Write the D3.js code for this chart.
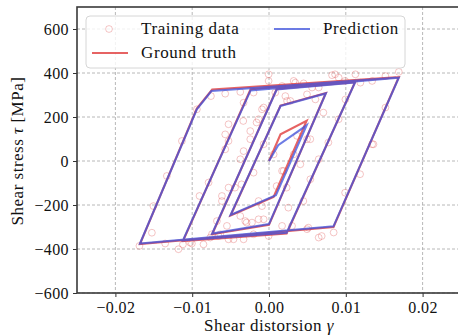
<!DOCTYPE html>
<html>
<head>
<meta charset="utf-8">
<script src="https://cdn.jsdelivr.net/npm/d3@7"></script>
<style>
  body { margin: 0; background: #fff; }
  text { font-family: "Liberation Serif", "DejaVu Serif", serif; }
</style>
</head>
<body>
<svg id="chart" width="458" height="335"></svg>
<script>
// ---- data ----
var xTicks = [-0.02, -0.01, 0, 0.01, 0.02];
var yTicks = [-600, -400, -200, 0, 200, 400, 600];

// ground truth path [gamma, tau]
var truthPath = [
  [0, 0], [0.0015, 121], [0.0049, 183], [0.0006, -163], [-0.0050, -248],
  [0.0015, 252], [0.0074, 309], [0.0000, -290], [-0.0074, -333],
  [0.0010, 327], [0.0112, 358], [0.0023, -329], [-0.0112, -364],
  [-0.0024, 326], [0.0169, 381], [0.0084, -300], [-0.0168, -378],
  [-0.0094, 238], [-0.0074, 325], [0.0165, 381]
];
// prediction path [gamma, tau]
var predPath = [
  [0, 0], [0.0012, 72], [0.0049, 162], [0.0009, -156], [-0.0050, -245],
  [0.0015, 250], [0.0074, 307], [0.0000, -287], [-0.0074, -330],
  [0.0010, 325], [0.0112, 357], [0.0023, -326], [-0.0112, -361],
  [-0.0024, 321], [0.0169, 379], [0.0084, -297], [-0.0168, -375],
  [-0.0094, 235], [-0.0075, 318], [0.0165, 378]
];
// training samples [gamma, tau]
var trainGamma = [
  -0.01134, -0.00939, -0.00756, -0.0057, -0.0133, -0.01505, -0.01525, -0.01687, -0.01352, -0.01179,
  -0.01121, -0.01004, -0.00905, -0.00787, -0.00853, -0.00765, -0.00657, -0.00613, -0.00527, -0.00548,
  -0.00527, -0.00678, -0.01026, -0.00374, -0.00201, -0.00005, -0.00005, 0.0017, 0.00343, 0.00451,
  0.00561, 0.00213, 0.00082, 0.00235, 0.00604, 0.00495, 0.00821, -0.00091, -0.00136, -0.00244,
  -0.00527, -0.0057, 0.00495, 0.00365, -0.0007, 0.00907, 0.01125, 0.0119, 0.01343, 0.01516,
  0.0169, 0.00995, 0.00907, 0.01516, 0.01343, -0.00331, 0.00321, 0.00647, 0.00278, -0.0057,
  -0.00374, -0.0007, -0.00244, -0.00331, 0.00538, 0.00321, 0.00647, -0.00613, -0.00201, -0.00136,
  -0.00091, -0.00374, -0.00309, -0.00222, -0.00136, -0.0007, -0.00635, -0.00462, -0.00331, -0.00201,
  -0.00005, 0.0017, 0.003, 0.00495, 0.00647, 0.00842, 0.0017, 0.00408, 0.00538, 0.01186,
  0.00991, 0.00686, 0.00512, 0.00447, -0.00292, 0.00252, 0.00229, 0.00099, -0.00357, -0.00443,
  0.0136, 0.00773, 0.00708, -0.00162, -0.00335, 0.0006, -0.00527, 0.0019, -0.00743, 0.0086,
  0.00991
];
var trainTau = [
  91, 235, 295, 306, -68, -205, -326, -386, -375, -401,
  -379, -375, -159, -98, -379, -348, -341, -182, -121, -295,
  -356, -273, -371, 314, 311, 364, 394, 341, 356, 353,
  334, 295, 311, 273, 280, 303, 390, 235, 190, 136,
  91, 121, 99, 114, 76, 379, 394, 356, 364, 386,
  405, 280, 190, 243, 76, 265, 364, 334, 273, 53,
  8, 243, 99, 45, 99, 30, 8, -159, -53, -182,
  -205, -250, -273, -280, -265, -265, -333, -356, -356, -333,
  -341, -295, -295, -310, -348, -325, -45, -15, -83, -60,
  -144, -341, -303, -182, -280, -212, -121, -114, -106, -121,
  76, 84, 220, 175, 182, 30, 167, -45, -333, 394,
  364
];

var svg = d3.select("#chart");
var margin = {left: 77, top: 7, right: -3, bottom: 42};
var width = 458 - margin.left - margin.right;
var height = 335 - margin.top - margin.bottom;

var x = d3.scaleLinear().domain([-0.025, 0.025]).range([0, width]);
var y = d3.scaleLinear().domain([-600, 700]).range([height, 0]);

var plot = svg.append("g").attr("transform", "translate(" + margin.left + "," + margin.top + ")");

// grid
plot.append("g").selectAll("line").data(xTicks).enter().append("line")
  .attr("x1", d => x(d)).attr("x2", d => x(d)).attr("y1", 0).attr("y2", height)
  .attr("stroke", "#b0b0b0").attr("stroke-width", 0.9).attr("stroke-dasharray", "3,2");
plot.append("g").selectAll("line").data(yTicks).enter().append("line")
  .attr("x1", 0).attr("x2", width).attr("y1", d => y(d)).attr("y2", d => y(d))
  .attr("stroke", "#b0b0b0").attr("stroke-width", 0.9).attr("stroke-dasharray", "3,2");

// training data
plot.append("g").selectAll("circle").data(trainGamma).enter().append("circle")
  .attr("cx", d => x(d)).attr("cy", (d, i) => y(trainTau[i])).attr("r", 3.4)
  .attr("fill", "none").attr("stroke", "#e05a5a").attr("stroke-opacity", 0.35).attr("stroke-width", 1);

var line = d3.line().x(d => x(d[0])).y(d => y(d[1]));

plot.append("path").datum(truthPath).attr("d", line)
  .attr("fill", "none").attr("stroke", "#e03c3c").attr("stroke-opacity", 0.8)
  .attr("stroke-width", 2.1).attr("stroke-linejoin", "miter");
plot.append("path").datum(predPath).attr("d", line)
  .attr("fill", "none").attr("stroke", "rgb(60,80,220)").attr("stroke-opacity", 0.75)
  .attr("stroke-width", 2.1).attr("stroke-linejoin", "miter");

// axes
var fmt = d => d3.format(".2f")(d).replace("-", "\u2212");
var xAxis = plot.append("g").attr("transform", "translate(0," + height + ")")
  .call(d3.axisBottom(x).tickValues(xTicks).tickFormat(fmt).tickSizeOuter(0).tickSize(4).tickPadding(5));
var yAxis = plot.append("g")
  .call(d3.axisLeft(y).tickValues(yTicks).tickFormat(d => String(d).replace("-", "\u2212")).tickSizeOuter(0).tickSize(4).tickPadding(4));
[xAxis, yAxis].forEach(function(a) {
  a.select(".domain").remove();
  a.selectAll("line").attr("stroke", "#333");
  a.selectAll("text").attr("font-size", 16).attr("fill", "#111")
    .style("font-family", "'Liberation Serif', serif").style("letter-spacing", "0.4px");
});

// frame
plot.append("rect").attr("x", 0).attr("y", 0).attr("width", width).attr("height", height)
  .attr("fill", "none").attr("stroke", "#3a3a3a").attr("stroke-width", 1.6);

// axis labels
var xl = svg.append("text").attr("x", 269).attr("y", 331).attr("text-anchor", "middle")
  .attr("font-size", 17).attr("fill", "#111").style("letter-spacing", "0.5px");
xl.append("tspan").text("Shear distorsion ");
xl.append("tspan").attr("font-style", "italic").text("\u03b3");

var yl = svg.append("text").attr("transform", "translate(23,151) rotate(-90)")
  .attr("text-anchor", "middle").attr("font-size", 17).attr("fill", "#111").style("letter-spacing", "0.5px");
yl.append("tspan").text("Shear stress ");
yl.append("tspan").attr("font-style", "italic").text("\u03c4");
yl.append("tspan").text(" [MPa]");

// legend
var lg = svg.append("g");
lg.append("rect").attr("x", 86).attr("y", 16).attr("width", 319).attr("height", 52).attr("rx", 4)
  .attr("fill", "#fff").attr("fill-opacity", 0.8).attr("stroke", "#d6d6d6");
lg.append("circle").attr("cx", 109).attr("cy", 29).attr("r", 3.4)
  .attr("fill", "none").attr("stroke", "#e05a5a").attr("stroke-opacity", 0.35);
lg.append("line").attr("x1", 92).attr("x2", 128).attr("y1", 53).attr("y2", 53)
  .attr("stroke", "#e03c3c").attr("stroke-opacity", 0.8).attr("stroke-width", 2.1);
lg.append("line").attr("x1", 274).attr("x2", 310).attr("y1", 29).attr("y2", 29)
  .attr("stroke", "rgb(60,80,220)").attr("stroke-opacity", 0.75).attr("stroke-width", 2.1);
[["Training data", 141, 34], ["Ground truth", 141, 58], ["Prediction", 323, 34]].forEach(function(t) {
  lg.append("text").attr("x", t[1]).attr("y", t[2]).attr("font-size", 17).attr("fill", "#111")
    .style("letter-spacing", "0.6px").text(t[0]);
});
</script>
</body>
</html>
